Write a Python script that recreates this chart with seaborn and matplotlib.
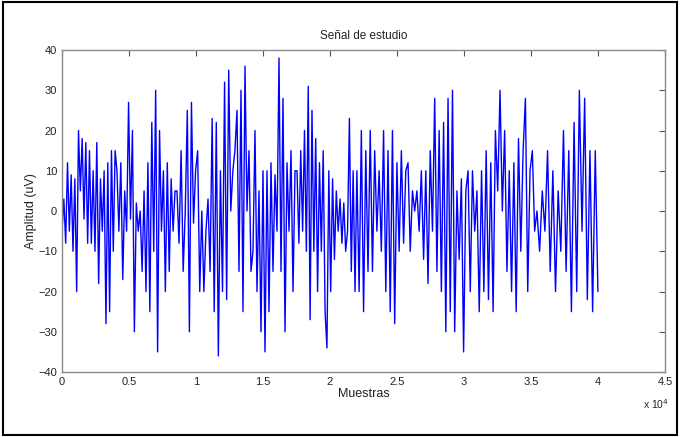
import numpy as np
import pandas as pd
import matplotlib
matplotlib.use("Agg")
import matplotlib.pyplot as plt
import seaborn as sns
from matplotlib.patches import Rectangle

# Signal extremes (uV), in order, segment by segment
seg1 = [-5, 3, -8, 12, -5, 9, -10, 8, -20, 20, 5, 18, -2, 17, -8, 15, -8, 10,
        -10, 17, -18, 8, -5, 10, -28, 12, -25, 15, -10, 15]
seg2 = [10, -5, 12, -17, 5, -5, 27, -2, 20, -30, 2, -5, 0, -15, 5, -20, 12, -25,
        22, -10, 30, -35, 20, -5, 10, -20, 12, -15, 8, -5, 5]
seg3 = [5, -8, 15, -15, 0, 25, -30, 27, -3, 10, 15, -20, 0, -20, -5, 3, -15, 23,
        -25, 22, -36, 10, -20, 32, -22, 35, 0, 10, 15]
seg4 = [25, -15, 30, -25, 36, 0, 15, -15, -10, 20, -20, 5, -30, 10, -35, 10, -25,
        12, -15, 9, -5, 38, -15, 28, -30, 12, -5, 15, -20, 10]
seg5 = [10, -8, 15, -5, 20, -10, 31, -27, 25, -10, 18, -20, 12, -10, 15, -25, -34,
        10, -20, 8, -12, 5, -5, 3, -8, 2, -10, -5, 23, -15, 10, -20]
seg6 = [10, -20, 20, -25, 15, -15, 20, -15, 15, -5, 10, -10, 20, -20, 15, -25, 20,
        -28, 12, -10, 15, -8, 10, 12, -10, 5, 0]
seg7 = [5, -5, 10, -12, 10, -18, 15, -5, 28, -15, 20, -20, 22, -30, 28, -25, 30,
        -30, 5, -12, 8, -35, 5, 10, -20, 10, -5]
seg8 = [5, -25, 10, -20, 15, -22, 12, -25, 20, 5, 30, 0, 20, -15, 10, -20, 12, -25,
        18, -10, 15, 28, -20, 10, 15, -5]
seg9 = [0, -10, 5, -5, 15, -15, 10, -20, 5, -10, 20, -15, 15, -25, 22, -20, 30,
        -5, 28, -22, 15, -25, 15, -20]
segments = [seg1, seg2, seg3, seg4, seg5, seg6, seg7, seg8, seg9]
# sample index where each segment starts (last value = end of recording)
seg_bounds = [0, 4100, 8580, 13060, 17540, 22010, 26490, 30970, 35450, 40000]

xs, ys = [], []
for i, seg in enumerate(segments):
    last = i == len(segments) - 1
    xs.append(np.linspace(seg_bounds[i], seg_bounds[i + 1], len(seg), endpoint=last))
    ys.append(np.array(seg, dtype=float))
samples = np.concatenate(xs)
amplitude = np.concatenate(ys)

xticks = [0, 5000, 10000, 15000, 20000, 25000, 30000, 35000, 40000, 45000]
xticklabels = ["0", "0.5", "1", "1.5", "2", "2.5", "3", "3.5", "4", "4.5"]
yticks = [-40, -30, -20, -10, 0, 10, 20, 30, 40]

df = pd.DataFrame({"Muestras": samples, "Amplitud": amplitude})

sns.set_style("white")
plt.rcParams["font.family"] = ["Liberation Sans Narrow", "Liberation Sans", "DejaVu Sans"]

fig = plt.figure(figsize=(6.8, 4.37), dpi=100)
fig.patches.append(Rectangle((0.004, 0.005), 0.992, 0.99, transform=fig.transFigure,
                             fill=False, edgecolor="black", linewidth=1.5))
ax = fig.add_axes([0.0912, 0.1487, 0.8866, 0.7368])
sns.lineplot(data=df, x="Muestras", y="Amplitud", color="#0000ff", linewidth=1.0,
             ax=ax, estimator=None, sort=False)

ax.set_xlim(0, 45000)
ax.set_ylim(-40, 40)
ax.set_xticks(xticks)
ax.set_xticklabels(xticklabels)
ax.set_yticks(yticks)
ax.tick_params(direction="in", length=4, width=0.8, colors="#555555",
               labelcolor="#222222", labelsize=8, top=True, right=True)
for s in ax.spines.values():
    s.set_color("#8a8a8a")
    s.set_linewidth(1.0)
ax.set_title("Señal de estudio", fontsize=8.5, color="#222222", pad=8)
ax.set_xlabel("Muestras", fontsize=9, color="#222222", labelpad=1)
ax.set_ylabel("Amplitud (uV)", fontsize=9, color="#222222", labelpad=1)
fig.text(0.945, 0.065, "x 10$^4$", fontsize=7.5, color="#222222")

fig.savefig("out.png", dpi=100)
